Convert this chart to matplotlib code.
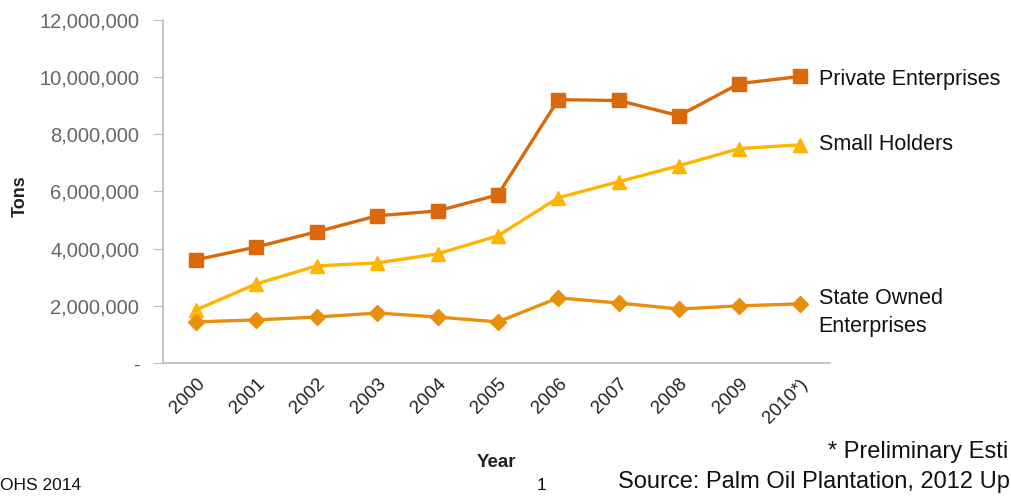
import matplotlib
matplotlib.use("Agg")
import matplotlib.pyplot as plt
from matplotlib.ticker import FuncFormatter

# Produção de óleo de palma por tipo de produtor (toneladas).
anos = ["2000", "2001", "2002", "2003", "2004", "2005",
        "2006", "2007", "2008", "2009", "2010*)"]
privadas = [3610000, 4060000, 4590000, 5150000, 5320000, 5880000,
            9210000, 9180000, 8650000, 9770000, 10020000]
pequenos = [1860000, 2770000, 3400000, 3500000, 3820000, 4450000,
            5780000, 6340000, 6900000, 7500000, 7630000]
estatais = [1440000, 1510000, 1610000, 1750000, 1610000, 1440000,
            2280000, 2100000, 1890000, 2000000, 2070000]

COR_PRIV = "#D9690A"
COR_PEQ = "#FFB500"
COR_EST = "#E8900E"

plt.rcParams["font.family"] = ["Liberation Sans", "DejaVu Sans"]

fig = plt.figure(figsize=(10.12, 4.96), dpi=100)
ax = fig.add_axes([0.161, 0.268, 0.659, 0.692])

x = range(len(anos))
ax.plot(x, pequenos, color=COR_PEQ, linewidth=2.4, marker="^", markersize=10,
        zorder=3)
ax.plot(x, estatais, color=COR_EST, linewidth=2.4, marker="D", markersize=8,
        zorder=4)
ax.plot(x, privadas, color=COR_PRIV, linewidth=2.4, marker="s", markersize=10,
        zorder=5)

# Rótulos das séries à direita do último ponto
rotulos = [("Private Enterprises", privadas[-1], -3),
           ("Small Holders", pequenos[-1], 0),
           ("State Owned\nEnterprises", estatais[-1], -9)]
for texto, valor, dy in rotulos:
    ax.annotate(texto, xy=(len(anos) - 1, valor), xytext=(19, dy),
                textcoords="offset pixels", ha="left", va="center",
                fontsize=15.5, color="#111111", linespacing=1.45,
                annotation_clip=False)

ax.set_xlim(-0.55, 10.5)
ax.set_ylim(0, 12000000)
ax.set_yticks(range(0, 12000001, 2000000))
ax.yaxis.set_major_formatter(
    FuncFormatter(lambda v, p: "-" if v == 0 else f"{int(v):,}"))
ax.set_xticks(list(x))
ax.set_xticklabels(anos, rotation=45, ha="right", rotation_mode="anchor",
                   fontsize=13.5, color="#222222")
ax.tick_params(axis="x", length=0, pad=9)
ax.tick_params(axis="y", length=7, color="#BBBBBB", labelsize=14.5,
               labelcolor="#666666", pad=10)
for lado in ["top", "right"]:
    ax.spines[lado].set_visible(False)
for lado in ["left", "bottom"]:
    ax.spines[lado].set_color("#BBBBBB")
    ax.spines[lado].set_linewidth(1.2)

fig.text(0.02, 0.605, "Tons", rotation=90, ha="center", va="center",
         fontsize=13, fontweight="bold", color="#222222")
fig.text(0.491, 0.068, "Year", ha="center", va="center",
         fontsize=13.5, fontweight="bold", color="#222222")

# Rodapé (só a parte visível no original, que está cortado nas bordas)
fig.text(0.818, 0.088, "* Preliminary Esti", ha="left", va="center",
         fontsize=17, color="#111111")
fig.text(0.611, 0.028, "Source: Palm Oil Plantation, 2012 Up", ha="left",
         va="center", fontsize=17, color="#111111")
fig.text(0.0, 0.022, "OHS 2014", ha="left", va="center", fontsize=12.5,
         color="#111111")
fig.text(0.535, 0.022, "1", ha="center", va="center", fontsize=12.5,
         color="#111111")

fig.savefig("out.png", dpi=100)
